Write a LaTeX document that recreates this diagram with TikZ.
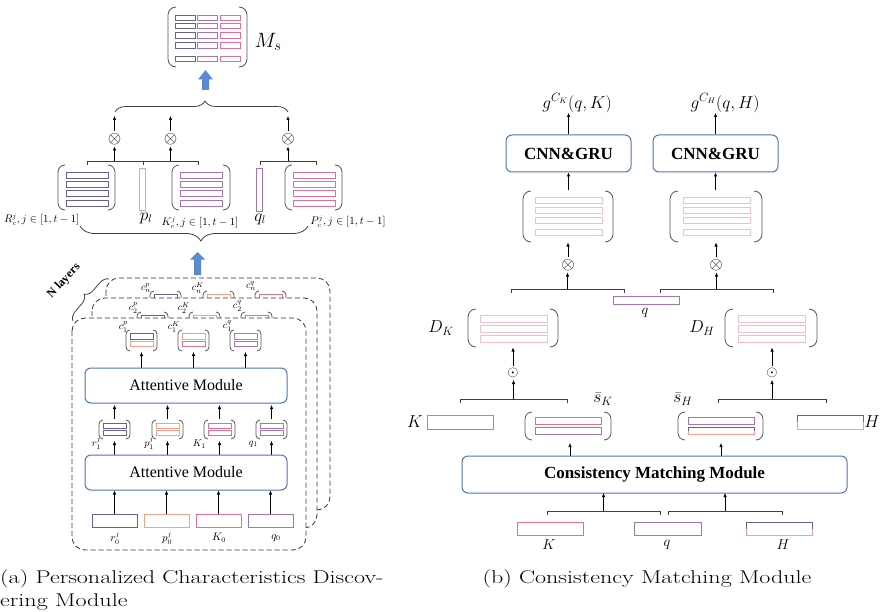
\documentclass[tikz,border=0pt]{standalone}
\usepackage{fontspec}
\newfontfamily\tnr{Liberation Serif}
\usetikzlibrary{arrows.meta,decorations.pathreplacing}
\definecolor{cSlate}{HTML}{64629C}
\definecolor{cPurple}{HTML}{A874B8}
\definecolor{cPink}{HTML}{E0709A}
\definecolor{cSalmon}{HTML}{F8A08E}
\definecolor{cLight}{HTML}{F6BEC6}
\definecolor{cBlue}{HTML}{4F74B8}
\definecolor{cBlueA}{HTML}{5B8AD0}
\definecolor{brkC}{HTML}{555555}
\newcommand\rb[5]{\draw[rowb,draw=#1] ({#2},{#3}) rectangle ({#4},{#5});}
\newcommand\brk[5]{%
 \draw[brkl] ({#1+#5},{#2}) to[out=180,in=90] ({#1},{#2+#5}) -- ({#1},{#4-#5}) to[out=-90,in=180] ({#1+#5},{#4});
 \draw[brkl] ({#3-#5},{#2}) to[out=0,in=90] ({#3},{#2+#5}) -- ({#3},{#4-#5}) to[out=-90,in=0] ({#3-#5},{#4});}
\newcommand\grp[3]{\draw[grpl] ({#1},{#3+4}) -- ({#1},{#3}) -- ({#2},{#3}) -- ({#2},{#3+4});}
\newcommand\smat[5]{\brk{#1}{#2}{#1+31}{#2+#3}{4}%
 \rb{#4}{#1+4}{#2+0.18*#3}{#1+27}{#2+0.43*#3}\rb{#5}{#1+4}{#2+0.55*#3}{#1+27}{#2+0.8*#3}}
\newcommand\hb[4]{\fill[white] ({#1},{#2}) rectangle ({#3},{#4});
 \draw[line width=0.9pt,cSlate] ({#1},{(#2+#4)/2}) -- ({#1},{#2}) -- ({#3},{#2}) -- ({#3},{(#2+#4)/2});
 \draw[line width=0.9pt,cSalmon] ({#1},{(#2+#4)/2}) -- ({#1},{#4}) -- ({#3},{#4}) -- ({#3},{(#2+#4)/2});}
\newcommand\barrow[5]{\fill[cBlueA] ({#1-3.5},{#5}) -- ({#1-3.5},{#3}) -- ({#1-7.5},{#3}) -- ({#1},{#2}) -- ({#1+7.5},{#3}) -- ({#1+3.5},{#3}) -- ({#1+3.5},{#5}) -- cycle;}
\begin{document}
\begin{tikzpicture}[x=1pt,y=-1pt,
 rowb/.style={line width=0.9pt, fill=white},
 brkl/.style={line width=0.8pt, draw=brkC},
 grpl/.style={line width=0.8pt, draw=black!75},
 arr/.style={-{Latex[length=4pt,width=3.4pt]}, line width=0.6pt},
 modbox/.style={draw=cBlue, line width=1pt, rounded corners=6pt, fill=white},
 layer/.style={draw=black!80, dash pattern=on 5pt off 3pt, line width=0.8pt, rounded corners=13pt, fill=white},
 opn/.style={inner sep=0pt, font=\fontsize{17}{17}\selectfont},
 odt/.style={inner sep=0pt, font=\fontsize{15}{15}\selectfont},
 lab/.style={inner sep=0pt, font=\fontsize{#1}{#1}\selectfont},
 lab/.default=10,
 captxt/.style={inner sep=0pt, font=\fontsize{18.5}{18.5}\selectfont}]
\useasboundingbox (0,0) rectangle (882,612);
% ---------- (a) top part ----------
\brk{168}{7}{247}{67}{8}
\foreach \t in {15,23.3,32.7,42.7,56}{\rb{cSlate}{175}{\t}{195}{\t+5.5}\rb{cPurple}{197.5}{\t}{217.5}{\t+5.5}\rb{cPink}{220}{\t}{240}{\t+5.5}}
\node[lab=22] (ms) at (268,42) {$M_s$};
\barrow{205.5}{70}{79.5}{0}{90}
\draw[grpl, decorate, decoration={brace, amplitude=11pt, aspect=0.52}] (115,112) -- (288,112);
\node[opn] (ox1) at (114.5,139) {$\otimes$};
\node[opn] (ox2) at (170.5,139) {$\otimes$};
\node[opn] (ox3) at (288,139) {$\otimes$};
\foreach \n/\x in {ox1/114.5,ox2/170.5,ox3/288}{\draw[arr] (\x,131) -- (\x,116); \draw[arr] (\x,161) -- (\x,146.5);}
\grp{87}{143}{161}\grp{143}{198}{161}\grp{260}{316}{161}
\brk{58}{165}{115}{210}{7}
\foreach \t in {172,181,190,200}{\rb{cSlate}{66}{\t}{108}{\t+6}}
\rb{cSalmon}{139}{168}{145}{210}
\brk{172}{165}{230}{210}{7}
\foreach \t in {172,181,190,200}{\rb{cPurple}{180}{\t}{222}{\t+6}}
\rb{cPurple}{256}{168}{262}{211}
\brk{285}{165}{342}{210}{7}
\foreach \t in {172,181,190,200}{\rb{cPink}{293}{\t}{335}{\t+6}}
\node[lab=10.5, anchor=west] (lr) at (4,220) {$R_c^j, j\in[1,t-1]$};
\node[lab=16] (lp) at (146,218) {$p_l$};
\node[lab=10.5] (lk) at (200,223) {$K_c^j, j\in[1,t-1]$};
\node[lab=16] (lq) at (260,219) {$q_l$};
\node[lab=10.5] (lP) at (348,222) {$P_c^j, j\in[1,t-1]$};
\draw[grpl, decorate, decoration={brace, amplitude=15pt, aspect=0.47}] (308,226) -- (80,226);
\barrow{197.5}{252}{259.5}{0}{275}
% ---------- layers ----------
\draw[layer] (106,278) rectangle (330,510);
\smat{150}{291}{21}{cSlate}{cSalmon}\smat{203}{291}{21}{cSalmon}{cSalmon}\smat{255}{291}{21}{cPink}{cPurple}
\node[lab=10, anchor=east] (cnp) at (151,288) {$c_n^p$};
\node[lab=10, anchor=east] (cnk) at (204,288) {$c_n^K$};
\node[lab=10, anchor=east] (cnq) at (256,286) {$c_n^q$};
\draw[layer] (92,298) rectangle (317,528);
\smat{137}{312}{21}{cSlate}{cSalmon}\smat{189}{312}{21}{cSalmon}{cSalmon}\smat{241}{312}{21}{cPink}{cPurple}
\node[lab=10, anchor=east] (c2p) at (138,308) {$c_2^p$};
\node[lab=10, anchor=east] (c2k) at (190,308) {$c_2^K$};
\node[lab=10, anchor=east] (c2q) at (242,306) {$c_2^q$};
\draw[layer] (72,318) rectangle (306,550);
\draw[grpl, decorate, decoration={brace, amplitude=9pt}] (73,321) -- (109,279);
\node[inner sep=0pt, font=\tnr\bfseries\fontsize{12}{12}\selectfont, rotate=47] (nl) at (64,281) {N layers};
\smat{126}{330}{21}{cSlate}{cSalmon}\smat{178}{330}{21}{cSalmon}{cPink}\smat{230}{330}{21}{cPink}{cPurple}
\node[lab=10, anchor=east] (c1p) at (128,327) {$c_1^p$};
\node[lab=10, anchor=east] (c1k) at (180,327) {$c_1^K$};
\node[lab=10, anchor=east] (c1q) at (232,326) {$c_1^q$};
\node[modbox, minimum width=202pt, minimum height=35pt, font=\tnr\fontsize{16}{16}\selectfont] (am1) at (186,385.5) {Attentive Module};
\foreach \x in {141.5,193.5,245.5}{\draw[arr] (\x,368) -- (\x,352);}
\smat{99}{420}{19}{cSlate}{cSlate}\smat{152}{420}{19}{cSalmon}{cSalmon}\smat{204}{420}{19}{cPink}{cPink}\smat{256}{420}{19}{cPurple}{cPurple}
\node[lab=10, anchor=east] (r1) at (101,443) {$r_1^j$};
\node[lab=10, anchor=east] (p1) at (154,443) {$p_1^j$};
\node[lab=10, anchor=east] (k1) at (206,444) {$K_1$};
\node[lab=10, anchor=east] (q1) at (258,444) {$q_1$};
\foreach \x in {114.5,167.5,219.5,271.5}{\draw[arr] (\x,419) -- (\x,405); \draw[arr] (\x,455) -- (\x,441);}
\node[modbox, minimum width=202pt, minimum height=35pt, font=\tnr\fontsize{16}{16}\selectfont] (am2) at (186,472.5) {Attentive Module};
\rb{cSlate}{92}{514}{137}{527}\rb{cSalmon}{144}{514}{189}{527}\rb{cPink}{196}{514}{241}{527}\rb{cPurple}{248}{514}{293}{527}
\foreach \x in {114.5,166.5,218.5,270.5}{\draw[arr] (\x,514) -- (\x,490.5);}
\node[lab=10.5] (r0) at (115,538) {$r_0^j$};
\node[lab=10.5] (p0) at (167,538) {$p_0^j$};
\node[lab=10.5] (k0) at (219,538) {$K_0$};
\node[lab=10.5] (q0) at (276,538) {$q_0$};
\node[captxt, anchor=west] (capa1) at (0,579) {\scalebox{1.3}[1]{(a) Personalized Characteristics Discov-}};
\node[captxt, anchor=west] (capa2) at (0,602) {\scalebox{1.3}[1]{ering Module}};
% ---------- (b) ----------
\node[lab=17] (gk) at (577,103) {$g^{C_K}(q,K)$};
\node[lab=17] (gh) at (725,103) {$g^{C_H}(q,H)$};
\node[modbox, minimum width=125pt, minimum height=37pt, font=\tnr\bfseries\fontsize{17}{17}\selectfont] (cg1) at (568.5,153.5) {CNN\&GRU};
\node[modbox, minimum width=125pt, minimum height=37pt, font=\tnr\bfseries\fontsize{17}{17}\selectfont] (cg2) at (715.5,153.5) {CNN\&GRU};
\draw[arr] (cg1.north) -- (568.5,113);
\draw[arr] (cg2.north) -- (715.5,113);
\brk{523}{191}{613}{242}{8}
\brk{670}{191}{762}{242}{8}
\foreach \t in {197,207,217,229}{\rb{cLight}{535}{\t}{602}{\t+6.5}\rb{cLight}{683}{\t}{750}{\t+6.5}}
\draw[arr] (568.5,190) -- (cg1.south);
\draw[arr] (715.5,190) -- (cg2.south);
\node[opn] (oxk) at (568,265) {$\otimes$};
\node[opn] (oxh) at (716,265) {$\otimes$};
\draw[arr] (568,257) -- (568,242.5);
\draw[arr] (716,257) -- (716,242.5);
\draw[arr] (567.5,289) -- (567.5,272.5);
\draw[arr] (716.5,289) -- (716.5,272.5);
\grp{511}{624}{289}\grp{660}{773}{289}
\rb{cPurple}{613}{296}{679}{304}
\node[lab=15] (lq2) at (645,313) {$q$};
\node[lab=17] (dk) at (441,328) {$D_K$};
\node[lab=17] (dh) at (702,328) {$D_H$};
\brk{468}{309}{558}{347}{8}
\brk{725}{309}{817}{347}{8}
\foreach \t in {315,325,335}{\rb{cLight}{480}{\t}{547}{\t+7}\rb{cLight}{738}{\t}{805}{\t+7}}
\node[odt] (odk) at (513,373) {$\odot$};
\node[odt] (odh) at (772,373) {$\odot$};
\draw[arr] (513,366) -- (513,347.5);
\draw[arr] (772,366) -- (772,347.5);
\draw[arr] (513.5,399) -- (513.5,380);
\draw[arr] (772,399) -- (772,380);
\grp{460}{567}{399}\grp{718}{826}{399}
\rb{cPink}{427}{415}{493}{429}
\node[lab=16] (lk2) at (415,422) {$K$};
\node[lab=17] (sk) at (603,399) {$\bar{s}_K$};
\node[lab=17] (sh) at (683,399) {$\bar{s}_H$};
\brk{525}{412}{611}{440}{7}
\rb{cPink}{535}{417}{601}{424}\rb{cPurple}{535}{427}{601}{434}
\brk{678}{412}{763}{440}{7}
\rb{cPurple}{688}{417}{754}{424}\hb{688}{427}{754}{434}
\hb{797}{415}{863}{429}
\node[lab=16] (lh2) at (872,422) {$H$};
\node[modbox, minimum width=385pt, minimum height=37pt, font=\tnr\bfseries\fontsize{17}{17}\selectfont] (cmm) at (654.5,474.5) {Consistency Matching Module};
\draw[arr] (570,456) -- (570,443);
\draw[arr] (721,456) -- (721,443);
\grp{547}{660}{511}\grp{668}{782}{511}
\draw[arr] (603.5,511) -- (603.5,493);
\draw[arr] (725,511) -- (725,493);
\rb{cPink}{517}{522}{583}{535}
\rb{cPurple}{634}{522}{701}{535}
\hb{746}{522}{812}{535}
\node[lab=15] (lk3) at (549,545) {$K$};
\node[lab=15] (lq3) at (667,545) {$q$};
\node[lab=15] (lh3) at (783,545) {$H$};
\node[captxt] (capb) at (647,579) {\scalebox{1.3}[1]{(b) Consistency Matching Module}};
\end{tikzpicture}
\end{document}
